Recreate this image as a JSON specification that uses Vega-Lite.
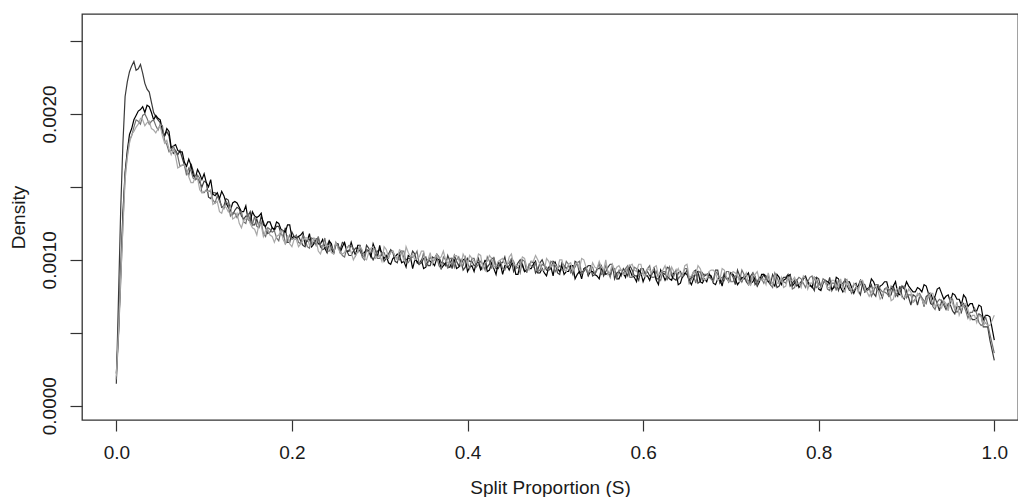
{
"$schema": "https://vega.github.io/schema/vega-lite/v6.json",
"width": 936, "height": 406,
"autosize": "none",
"padding": {"left": 82, "top": 14, "right": 0, "bottom": 77},
"background": "white",
"config": {"view": {"stroke": "#333333", "strokeWidth": 1.3}, "font": "Liberation Sans"},
"data": {"values": [
{"x":0,"a":0.00015,"b":0.00022,"c":0.00018,"d":0.00020},
{"x":0.005,"a":0.00135,"b":0.00092,"c":0.00085,"d":0.00088},
{"x":0.01,"a":0.00212,"b":0.00160,"c":0.00158,"d":0.00155},
{"x":0.015,"a":0.00229,"b":0.00186,"c":0.00182,"d":0.00180},
{"x":0.02,"a":0.00236,"b":0.00196,"c":0.00191,"d":0.00188},
{"x":0.025,"a":0.00231,"b":0.00202,"c":0.00195,"d":0.00193},
{"x":0.03,"a":0.00228,"b":0.00205,"c":0.00199,"d":0.00196},
{"x":0.035,"a":0.00217,"b":0.00206,"c":0.00197,"d":0.00194},
{"x":0.04,"a":0.00208,"b":0.00201,"c":0.00195,"d":0.00190},
{"x":0.045,"a":0.00198,"b":0.00199,"c":0.00192,"d":0.00187},
{"x":0.05,"a":0.00194,"b":0.00196,"c":0.00193,"d":0.00192},
{"x":0.055,"a":0.00185,"b":0.00185,"c":0.00182,"d":0.00180},
{"x":0.06,"a":0.00185,"b":0.00188,"c":0.00174,"d":0.00176},
{"x":0.065,"a":0.00173,"b":0.00178,"c":0.00178,"d":0.00176},
{"x":0.07,"a":0.00172,"b":0.00175,"c":0.00171,"d":0.00163},
{"x":0.075,"a":0.00170,"b":0.00174,"c":0.00165,"d":0.00165},
{"x":0.08,"a":0.00161,"b":0.00164,"c":0.00158,"d":0.00162},
{"x":0.085,"a":0.00166,"b":0.00165,"c":0.00161,"d":0.00153},
{"x":0.09,"a":0.00155,"b":0.00156,"c":0.00155,"d":0.00157},
{"x":0.095,"a":0.00153,"b":0.00159,"c":0.00156,"d":0.00148},
{"x":0.1,"a":0.00154,"b":0.00159,"c":0.00146,"d":0.00147},
{"x":0.105,"a":0.00143,"b":0.00150,"c":0.00147,"d":0.00147},
{"x":0.11,"a":0.00146,"b":0.00145,"c":0.00141,"d":0.00138},
{"x":0.115,"a":0.00145,"b":0.00146,"c":0.00144,"d":0.00140},
{"x":0.12,"a":0.00136,"b":0.00147,"c":0.00137,"d":0.00132},
{"x":0.125,"a":0.00142,"b":0.00139,"c":0.00140,"d":0.00136},
{"x":0.13,"a":0.00134,"b":0.00134,"c":0.00130,"d":0.00137},
{"x":0.135,"a":0.00134,"b":0.00140,"c":0.00132,"d":0.00129},
{"x":0.14,"a":0.00135,"b":0.00136,"c":0.00132,"d":0.00125},
{"x":0.145,"a":0.00128,"b":0.00133,"c":0.00126,"d":0.00127},
{"x":0.15,"a":0.00130,"b":0.00128,"c":0.00132,"d":0.00129},
{"x":0.155,"a":0.00124,"b":0.00133,"c":0.00124,"d":0.00122},
{"x":0.16,"a":0.00128,"b":0.00129,"c":0.00123,"d":0.00117},
{"x":0.165,"a":0.00130,"b":0.00132,"c":0.00126,"d":0.00124},
{"x":0.17,"a":0.00122,"b":0.00123,"c":0.00116,"d":0.00120},
{"x":0.175,"a":0.00119,"b":0.00126,"c":0.00121,"d":0.00117},
{"x":0.18,"a":0.00120,"b":0.00121,"c":0.00120,"d":0.00112},
{"x":0.185,"a":0.00123,"b":0.00125,"c":0.00113,"d":0.00117},
{"x":0.19,"a":0.00116,"b":0.00120,"c":0.00120,"d":0.00114},
{"x":0.195,"a":0.00112,"b":0.00124,"c":0.00113,"d":0.00117},
{"x":0.2,"a":0.00119,"b":0.00115,"c":0.00114,"d":0.00109},
{"x":0.205,"a":0.00115,"b":0.00115,"c":0.00117,"d":0.00114},
{"x":0.21,"a":0.00113,"b":0.00117,"c":0.00111,"d":0.00111},
{"x":0.215,"a":0.00109,"b":0.00111,"c":0.00114,"d":0.00115},
{"x":0.22,"a":0.00114,"b":0.00118,"c":0.00108,"d":0.00110},
{"x":0.225,"a":0.00112,"b":0.00111,"c":0.00114,"d":0.00115},
{"x":0.23,"a":0.00115,"b":0.00111,"c":0.00116,"d":0.00106},
{"x":0.235,"a":0.00107,"b":0.00114,"c":0.00109,"d":0.00109},
{"x":0.24,"a":0.00110,"b":0.00105,"c":0.00106,"d":0.00110},
{"x":0.245,"a":0.00107,"b":0.00111,"c":0.00109,"d":0.00105},
{"x":0.25,"a":0.00111,"b":0.00111,"c":0.00112,"d":0.00112},
{"x":0.255,"a":0.00107,"b":0.00105,"c":0.00106,"d":0.00105},
{"x":0.26,"a":0.00111,"b":0.00112,"c":0.00102,"d":0.00105},
{"x":0.265,"a":0.00103,"b":0.00106,"c":0.00110,"d":0.00109},
{"x":0.27,"a":0.00106,"b":0.00107,"c":0.00107,"d":0.00100},
{"x":0.275,"a":0.00108,"b":0.00110,"c":0.00105,"d":0.00106},
{"x":0.28,"a":0.00103,"b":0.00104,"c":0.00102,"d":0.00107},
{"x":0.285,"a":0.00110,"b":0.00107,"c":0.00107,"d":0.00100},
{"x":0.29,"a":0.00103,"b":0.00102,"c":0.00105,"d":0.00108},
{"x":0.295,"a":0.00103,"b":0.00107,"c":0.00108,"d":0.00101},
{"x":0.3,"a":0.00107,"b":0.00110,"c":0.00101,"d":0.00103},
{"x":0.305,"a":0.00099,"b":0.00101,"c":0.00105,"d":0.00109},
{"x":0.31,"a":0.00104,"b":0.00098,"c":0.00101,"d":0.00102},
{"x":0.315,"a":0.00105,"b":0.00101,"c":0.00106,"d":0.00106},
{"x":0.32,"a":0.00098,"b":0.00104,"c":0.00101,"d":0.00100},
{"x":0.325,"a":0.00106,"b":0.00098,"c":0.00106,"d":0.00106},
{"x":0.33,"a":0.00100,"b":0.00095,"c":0.00098,"d":0.00109},
{"x":0.335,"a":0.00101,"b":0.00102,"c":0.00101,"d":0.00102},
{"x":0.34,"a":0.00104,"b":0.00100,"c":0.00103,"d":0.00100},
{"x":0.345,"a":0.00097,"b":0.00097,"c":0.00097,"d":0.00102},
{"x":0.35,"a":0.00101,"b":0.00094,"c":0.00105,"d":0.00106},
{"x":0.355,"a":0.00096,"b":0.00100,"c":0.00098,"d":0.00100},
{"x":0.36,"a":0.00102,"b":0.00098,"c":0.00099,"d":0.00097},
{"x":0.365,"a":0.00104,"b":0.00101,"c":0.00102,"d":0.00104},
{"x":0.37,"a":0.00098,"b":0.00094,"c":0.00094,"d":0.00102},
{"x":0.375,"a":0.00096,"b":0.00098,"c":0.00100,"d":0.00100},
{"x":0.38,"a":0.00099,"b":0.00095,"c":0.00101,"d":0.00097},
{"x":0.385,"a":0.00103,"b":0.00100,"c":0.00095,"d":0.00103},
{"x":0.39,"a":0.00096,"b":0.00095,"c":0.00102,"d":0.00100},
{"x":0.395,"a":0.00093,"b":0.00100,"c":0.00096,"d":0.00104},
{"x":0.4,"a":0.00101,"b":0.00092,"c":0.00098,"d":0.00097},
{"x":0.405,"a":0.00099,"b":0.00096,"c":0.00101,"d":0.00101},
{"x":0.41,"a":0.00097,"b":0.00098,"c":0.00095,"d":0.00098},
{"x":0.415,"a":0.00094,"b":0.00093,"c":0.00099,"d":0.00103},
{"x":0.42,"a":0.00099,"b":0.00100,"c":0.00093,"d":0.00098},
{"x":0.425,"a":0.00097,"b":0.00093,"c":0.00099,"d":0.00103},
{"x":0.43,"a":0.00101,"b":0.00094,"c":0.00102,"d":0.00095},
{"x":0.435,"a":0.00094,"b":0.00098,"c":0.00096,"d":0.00099},
{"x":0.44,"a":0.00098,"b":0.00090,"c":0.00094,"d":0.00101},
{"x":0.445,"a":0.00095,"b":0.00096,"c":0.00097,"d":0.00096},
{"x":0.45,"a":0.00100,"b":0.00097,"c":0.00101,"d":0.00104},
{"x":0.455,"a":0.00095,"b":0.00090,"c":0.00094,"d":0.00096},
{"x":0.46,"a":0.00100,"b":0.00098,"c":0.00091,"d":0.00097},
{"x":0.465,"a":0.00092,"b":0.00092,"c":0.00099,"d":0.00101},
{"x":0.47,"a":0.00096,"b":0.00094,"c":0.00097,"d":0.00093},
{"x":0.475,"a":0.00098,"b":0.00097,"c":0.00095,"d":0.00099},
{"x":0.48,"a":0.00093,"b":0.00091,"c":0.00092,"d":0.00100},
{"x":0.485,"a":0.00100,"b":0.00094,"c":0.00097,"d":0.00093},
{"x":0.49,"a":0.00093,"b":0.00089,"c":0.00095,"d":0.00101},
{"x":0.495,"a":0.00094,"b":0.00095,"c":0.00099,"d":0.00095},
{"x":0.5,"a":0.00098,"b":0.00098,"c":0.00092,"d":0.00097},
{"x":0.505,"a":0.00090,"b":0.00092,"c":0.00096,"d":0.00100},
{"x":0.51,"a":0.00096,"b":0.00090,"c":0.00093,"d":0.00094},
{"x":0.515,"a":0.00096,"b":0.00092,"c":0.00097,"d":0.00097},
{"x":0.52,"a":0.00090,"b":0.00096,"c":0.00093,"d":0.00092},
{"x":0.525,"a":0.00098,"b":0.00090,"c":0.00098,"d":0.00098},
{"x":0.53,"a":0.00092,"b":0.00087,"c":0.00090,"d":0.00101},
{"x":0.535,"a":0.00094,"b":0.00095,"c":0.00094,"d":0.00095},
{"x":0.54,"a":0.00096,"b":0.00092,"c":0.00095,"d":0.00092},
{"x":0.545,"a":0.00090,"b":0.00090,"c":0.00090,"d":0.00095},
{"x":0.55,"a":0.00094,"b":0.00087,"c":0.00098,"d":0.00099},
{"x":0.555,"a":0.00089,"b":0.00093,"c":0.00091,"d":0.00093},
{"x":0.56,"a":0.00095,"b":0.00091,"c":0.00092,"d":0.00090},
{"x":0.565,"a":0.00097,"b":0.00094,"c":0.00095,"d":0.00097},
{"x":0.57,"a":0.00091,"b":0.00087,"c":0.00087,"d":0.00095},
{"x":0.575,"a":0.00089,"b":0.00091,"c":0.00093,"d":0.00093},
{"x":0.58,"a":0.00092,"b":0.00088,"c":0.00094,"d":0.00090},
{"x":0.585,"a":0.00096,"b":0.00093,"c":0.00088,"d":0.00096},
{"x":0.59,"a":0.00089,"b":0.00088,"c":0.00095,"d":0.00093},
{"x":0.595,"a":0.00086,"b":0.00093,"c":0.00089,"d":0.00097},
{"x":0.6,"a":0.00094,"b":0.00085,"c":0.00091,"d":0.00090},
{"x":0.605,"a":0.00092,"b":0.00089,"c":0.00094,"d":0.00094},
{"x":0.61,"a":0.00090,"b":0.00091,"c":0.00088,"d":0.00091},
{"x":0.615,"a":0.00087,"b":0.00086,"c":0.00092,"d":0.00096},
{"x":0.62,"a":0.00092,"b":0.00093,"c":0.00086,"d":0.00091},
{"x":0.625,"a":0.00090,"b":0.00086,"c":0.00092,"d":0.00096},
{"x":0.63,"a":0.00094,"b":0.00087,"c":0.00095,"d":0.00088},
{"x":0.635,"a":0.00087,"b":0.00091,"c":0.00089,"d":0.00092},
{"x":0.64,"a":0.00091,"b":0.00083,"c":0.00087,"d":0.00094},
{"x":0.645,"a":0.00088,"b":0.00089,"c":0.00090,"d":0.00089},
{"x":0.65,"a":0.00093,"b":0.00090,"c":0.00094,"d":0.00097},
{"x":0.655,"a":0.00088,"b":0.00083,"c":0.00087,"d":0.00089},
{"x":0.66,"a":0.00093,"b":0.00091,"c":0.00084,"d":0.00090},
{"x":0.665,"a":0.00085,"b":0.00085,"c":0.00092,"d":0.00094},
{"x":0.67,"a":0.00089,"b":0.00087,"c":0.00090,"d":0.00086},
{"x":0.675,"a":0.00091,"b":0.00090,"c":0.00088,"d":0.00092},
{"x":0.68,"a":0.00086,"b":0.00084,"c":0.00085,"d":0.00093},
{"x":0.685,"a":0.00093,"b":0.00087,"c":0.00090,"d":0.00086},
{"x":0.69,"a":0.00086,"b":0.00082,"c":0.00088,"d":0.00094},
{"x":0.695,"a":0.00087,"b":0.00088,"c":0.00092,"d":0.00088},
{"x":0.7,"a":0.00091,"b":0.00091,"c":0.00085,"d":0.00090},
{"x":0.705,"a":0.00083,"b":0.00087,"c":0.00089,"d":0.00091},
{"x":0.71,"a":0.00089,"b":0.00085,"c":0.00086,"d":0.00085},
{"x":0.715,"a":0.00089,"b":0.00087,"c":0.00090,"d":0.00088},
{"x":0.72,"a":0.00083,"b":0.00091,"c":0.00086,"d":0.00083},
{"x":0.725,"a":0.00091,"b":0.00085,"c":0.00091,"d":0.00089},
{"x":0.73,"a":0.00085,"b":0.00082,"c":0.00083,"d":0.00092},
{"x":0.735,"a":0.00087,"b":0.00090,"c":0.00087,"d":0.00086},
{"x":0.74,"a":0.00089,"b":0.00087,"c":0.00088,"d":0.00083},
{"x":0.745,"a":0.00083,"b":0.00085,"c":0.00083,"d":0.00086},
{"x":0.75,"a":0.00087,"b":0.00082,"c":0.00091,"d":0.00090},
{"x":0.755,"a":0.00082,"b":0.00088,"c":0.00084,"d":0.00084},
{"x":0.76,"a":0.00088,"b":0.00086,"c":0.00085,"d":0.00081},
{"x":0.765,"a":0.00090,"b":0.00089,"c":0.00088,"d":0.00088},
{"x":0.77,"a":0.00084,"b":0.00082,"c":0.00080,"d":0.00086},
{"x":0.775,"a":0.00082,"b":0.00086,"c":0.00086,"d":0.00084},
{"x":0.78,"a":0.00085,"b":0.00083,"c":0.00087,"d":0.00081},
{"x":0.785,"a":0.00089,"b":0.00088,"c":0.00081,"d":0.00087},
{"x":0.79,"a":0.00082,"b":0.00083,"c":0.00088,"d":0.00084},
{"x":0.795,"a":0.00079,"b":0.00088,"c":0.00082,"d":0.00088},
{"x":0.8,"a":0.00087,"b":0.00080,"c":0.00084,"d":0.00081},
{"x":0.805,"a":0.00085,"b":0.00084,"c":0.00087,"d":0.00085},
{"x":0.81,"a":0.00082,"b":0.00085,"c":0.00080,"d":0.00081},
{"x":0.815,"a":0.00079,"b":0.00080,"c":0.00084,"d":0.00086},
{"x":0.82,"a":0.00085,"b":0.00088,"c":0.00079,"d":0.00082},
{"x":0.825,"a":0.00083,"b":0.00081,"c":0.00085,"d":0.00087},
{"x":0.83,"a":0.00086,"b":0.00081,"c":0.00087,"d":0.00078},
{"x":0.835,"a":0.00079,"b":0.00085,"c":0.00081,"d":0.00082},
{"x":0.84,"a":0.00083,"b":0.00077,"c":0.00079,"d":0.00084},
{"x":0.845,"a":0.00079,"b":0.00082,"c":0.00081,"d":0.00078},
{"x":0.85,"a":0.00084,"b":0.00083,"c":0.00085,"d":0.00086},
{"x":0.855,"a":0.00079,"b":0.00080,"c":0.00079,"d":0.00078},
{"x":0.86,"a":0.00083,"b":0.00087,"c":0.00075,"d":0.00078},
{"x":0.865,"a":0.00075,"b":0.00081,"c":0.00083,"d":0.00082},
{"x":0.87,"a":0.00078,"b":0.00082,"c":0.00080,"d":0.00073},
{"x":0.875,"a":0.00080,"b":0.00085,"c":0.00078,"d":0.00079},
{"x":0.88,"a":0.00075,"b":0.00079,"c":0.00075,"d":0.00080},
{"x":0.885,"a":0.00082,"b":0.00082,"c":0.00080,"d":0.00073},
{"x":0.89,"a":0.00075,"b":0.00077,"c":0.00078,"d":0.00081},
{"x":0.895,"a":0.00075,"b":0.00082,"c":0.00081,"d":0.00074},
{"x":0.9,"a":0.00079,"b":0.00085,"c":0.00074,"d":0.00076},
{"x":0.905,"a":0.00069,"b":0.00080,"c":0.00076,"d":0.00078},
{"x":0.91,"a":0.00075,"b":0.00078,"c":0.00073,"d":0.00072},
{"x":0.915,"a":0.00075,"b":0.00080,"c":0.00077,"d":0.00075},
{"x":0.92,"a":0.00068,"b":0.00083,"c":0.00072,"d":0.00069},
{"x":0.925,"a":0.00076,"b":0.00077,"c":0.00077,"d":0.00075},
{"x":0.93,"a":0.00069,"b":0.00073,"c":0.00068,"d":0.00077},
{"x":0.935,"a":0.00070,"b":0.00080,"c":0.00071,"d":0.00070},
{"x":0.94,"a":0.00072,"b":0.00077,"c":0.00072,"d":0.00067},
{"x":0.945,"a":0.00066,"b":0.00075,"c":0.00067,"d":0.00070},
{"x":0.95,"a":0.00069,"b":0.00071,"c":0.00074,"d":0.00073},
{"x":0.955,"a":0.00063,"b":0.00076,"c":0.00066,"d":0.00066},
{"x":0.96,"a":0.00068,"b":0.00073,"c":0.00066,"d":0.00062},
{"x":0.965,"a":0.00070,"b":0.00076,"c":0.00069,"d":0.00069},
{"x":0.97,"a":0.00063,"b":0.00068,"c":0.00060,"d":0.00066},
{"x":0.975,"a":0.00059,"b":0.00070,"c":0.00064,"d":0.00062},
{"x":0.98,"a":0.00060,"b":0.00065,"c":0.00063,"d":0.00057},
{"x":0.985,"a":0.00062,"b":0.00068,"c":0.00055,"d":0.00061},
{"x":0.99,"a":0.00054,"b":0.00062,"c":0.00061,"d":0.00057},
{"x":0.995,"a":0.00045,"b":0.00061,"c":0.00049,"d":0.00055},
{"x":1.0,"a":0.00031,"b":0.00045,"c":0.00036,"d":0.00062},
{"x":0.0025,"a":0.00075,"b":0.00050,"c":0.00048,"d":0.00052},
{"x":0.0075,"a":0.00180,"b":0.00132,"c":0.00125,"d":0.00122},
{"x":0.0125,"a":0.00222,"b":0.00175,"c":0.00172,"d":0.00170},
{"x":0.0175,"a":0.00233,"b":0.00190,"c":0.00185,"d":0.00186},
{"x":0.0225,"a":0.00230,"b":0.00199,"c":0.00196,"d":0.00191},
{"x":0.0275,"a":0.00234,"b":0.00203,"c":0.00193,"d":0.00197},
{"x":0.0325,"a":0.00221,"b":0.00201,"c":0.00200,"d":0.00192},
{"x":0.0375,"a":0.00215,"b":0.00205,"c":0.00193,"d":0.00195},
{"x":0.0425,"a":0.00201,"b":0.00196,"c":0.00196,"d":0.00189},
{"x":0.0475,"a":0.00196,"b":0.00197,"c":0.00189,"d":0.00190},
{"x":0.0525,"a":0.00187,"b":0.00189,"c":0.00192,"d":0.00185},
{"x":0.0575,"a":0.00188,"b":0.00190,"c":0.00179,"d":0.00182},
{"x":0.0625,"a":0.00176,"b":0.00177,"c":0.00175,"d":0.00172},
{"x":0.0675,"a":0.00175,"b":0.00179,"c":0.00174,"d":0.00171},
{"x":0.0725,"a":0.00175,"b":0.00174,"c":0.00164,"d":0.00164},
{"x":0.0775,"a":0.00165,"b":0.00167,"c":0.00165,"d":0.00165},
{"x":0.0825,"a":0.00158,"b":0.00169,"c":0.00163,"d":0.00157},
{"x":0.0875,"a":0.00161,"b":0.00158,"c":0.00156,"d":0.00153},
{"x":0.0925,"a":0.00156,"b":0.00162,"c":0.00158,"d":0.00156},
{"x":0.0975,"a":0.00150,"b":0.00155,"c":0.00146,"d":0.00146},
{"x":0.1025,"a":0.00153,"b":0.00153,"c":0.00148,"d":0.00147},
{"x":0.1075,"a":0.00142,"b":0.00155,"c":0.00147,"d":0.00148},
{"x":0.1125,"a":0.00146,"b":0.00144,"c":0.00139,"d":0.00139},
{"x":0.1175,"a":0.00142,"b":0.00142,"c":0.00140,"d":0.00133},
{"x":0.1225,"a":0.00137,"b":0.00144,"c":0.00135,"d":0.00137},
{"x":0.1275,"a":0.00141,"b":0.00136,"c":0.00138,"d":0.00133},
{"x":0.1325,"a":0.00131,"b":0.00139,"c":0.00132,"d":0.00128},
{"x":0.1375,"a":0.00136,"b":0.00139,"c":0.00129,"d":0.00132},
{"x":0.1425,"a":0.00130,"b":0.00133,"c":0.00133,"d":0.00122},
{"x":0.1475,"a":0.00130,"b":0.00137,"c":0.00125,"d":0.00128},
{"x":0.1525,"a":0.00133,"b":0.00126,"c":0.00127,"d":0.00125},
{"x":0.1575,"a":0.00124,"b":0.00130,"c":0.00130,"d":0.00121},
{"x":0.1625,"a":0.00123,"b":0.00130,"c":0.00122,"d":0.00125},
{"x":0.1675,"a":0.00126,"b":0.00124,"c":0.00118,"d":0.00116},
{"x":0.1725,"a":0.00118,"b":0.00126,"c":0.00122,"d":0.00121},
{"x":0.1775,"a":0.00122,"b":0.00122,"c":0.00119,"d":0.00116},
{"x":0.1825,"a":0.00123,"b":0.00126,"c":0.00115,"d":0.00116},
{"x":0.1875,"a":0.00118,"b":0.00121,"c":0.00120,"d":0.00120},
{"x":0.1925,"a":0.00122,"b":0.00119,"c":0.00111,"d":0.00111},
{"x":0.1975,"a":0.00112,"b":0.00124,"c":0.00117,"d":0.00111},
{"x":0.2025,"a":0.00116,"b":0.00116,"c":0.00115,"d":0.00114},
{"x":0.2075,"a":0.00116,"b":0.00116,"c":0.00112,"d":0.00109},
{"x":0.2125,"a":0.00110,"b":0.00119,"c":0.00117,"d":0.00113},
{"x":0.2175,"a":0.00114,"b":0.00113,"c":0.00109,"d":0.00115},
{"x":0.2225,"a":0.00110,"b":0.00109,"c":0.00115,"d":0.00110},
{"x":0.2275,"a":0.00114,"b":0.00114,"c":0.00110,"d":0.00114},
{"x":0.2325,"a":0.00109,"b":0.00111,"c":0.00110,"d":0.00104},
{"x":0.2375,"a":0.00108,"b":0.00108,"c":0.00115,"d":0.00109},
{"x":0.2425,"a":0.00113,"b":0.00113,"c":0.00106,"d":0.00110},
{"x":0.2475,"a":0.00105,"b":0.00104,"c":0.00106,"d":0.00104},
{"x":0.2525,"a":0.00109,"b":0.00111,"c":0.00110,"d":0.00108},
{"x":0.2575,"a":0.00112,"b":0.00109,"c":0.00103,"d":0.00104},
{"x":0.2625,"a":0.00106,"b":0.00106,"c":0.00108,"d":0.00109},
{"x":0.2675,"a":0.00103,"b":0.00112,"c":0.00110,"d":0.00105},
{"x":0.2725,"a":0.00108,"b":0.00103,"c":0.00105,"d":0.00103},
{"x":0.2775,"a":0.00106,"b":0.00110,"c":0.00110,"d":0.00109},
{"x":0.2825,"a":0.00102,"b":0.00105,"c":0.00100,"d":0.00101},
{"x":0.2875,"a":0.00108,"b":0.00106,"c":0.00105,"d":0.00105},
{"x":0.2925,"a":0.00100,"b":0.00111,"c":0.00107,"d":0.00109},
{"x":0.2975,"a":0.00106,"b":0.00102,"c":0.00101,"d":0.00102},
{"x":0.3025,"a":0.00105,"b":0.00103,"c":0.00105,"d":0.00099},
{"x":0.3075,"a":0.00101,"b":0.00103,"c":0.00101,"d":0.00107},
{"x":0.3125,"a":0.00107,"b":0.00097,"c":0.00106,"d":0.00105},
{"x":0.3175,"a":0.00099,"b":0.00102,"c":0.00102,"d":0.00102},
{"x":0.3225,"a":0.00105,"b":0.00103,"c":0.00100,"d":0.00107},
{"x":0.3275,"a":0.00101,"b":0.00099,"c":0.00106,"d":0.00099},
{"x":0.3325,"a":0.00101,"b":0.00103,"c":0.00098,"d":0.00105},
{"x":0.3375,"a":0.00106,"b":0.00094,"c":0.00102,"d":0.00104},
{"x":0.3425,"a":0.00098,"b":0.00099,"c":0.00106,"d":0.00101},
{"x":0.3475,"a":0.00098,"b":0.00100,"c":0.00099,"d":0.00106},
{"x":0.3525,"a":0.00102,"b":0.00095,"c":0.00096,"d":0.00098},
{"x":0.3575,"a":0.00096,"b":0.00099,"c":0.00102,"d":0.00105},
{"x":0.3625,"a":0.00101,"b":0.00096,"c":0.00100,"d":0.00101},
{"x":0.3675,"a":0.00102,"b":0.00100,"c":0.00096,"d":0.00101},
{"x":0.3725,"a":0.00098,"b":0.00096,"c":0.00102,"d":0.00106},
{"x":0.3775,"a":0.00103,"b":0.00095,"c":0.00094,"d":0.00098},
{"x":0.3825,"a":0.00094,"b":0.00101,"c":0.00101,"d":0.00099},
{"x":0.3875,"a":0.00099,"b":0.00094,"c":0.00100,"d":0.00103},
{"x":0.3925,"a":0.00100,"b":0.00097,"c":0.00096,"d":0.00096},
{"x":0.3975,"a":0.00095,"b":0.00101,"c":0.00102,"d":0.00101},
{"x":0.4025,"a":0.00099,"b":0.00095,"c":0.00094,"d":0.00103},
{"x":0.4075,"a":0.00096,"b":0.00092,"c":0.00101,"d":0.00099},
{"x":0.4125,"a":0.00101,"b":0.00098,"c":0.00097,"d":0.00104},
{"x":0.4175,"a":0.00096,"b":0.00095,"c":0.00097,"d":0.00094},
{"x":0.4225,"a":0.00095,"b":0.00092,"c":0.00102,"d":0.00099},
{"x":0.4275,"a":0.00101,"b":0.00098,"c":0.00094,"d":0.00101},
{"x":0.4325,"a":0.00094,"b":0.00090,"c":0.00095,"d":0.00096},
{"x":0.4375,"a":0.00098,"b":0.00097,"c":0.00099,"d":0.00100},
{"x":0.4425,"a":0.00102,"b":0.00096,"c":0.00093,"d":0.00097},
{"x":0.4475,"a":0.00096,"b":0.00093,"c":0.00098,"d":0.00102},
{"x":0.4525,"a":0.00092,"b":0.00098,"c":0.00099,"d":0.00097},
{"x":0.4575,"a":0.00098,"b":0.00090,"c":0.00095,"d":0.00096},
{"x":0.4625,"a":0.00096,"b":0.00097,"c":0.00100,"d":0.00102},
{"x":0.4675,"a":0.00093,"b":0.00093,"c":0.00091,"d":0.00095},
{"x":0.4725,"a":0.00099,"b":0.00094,"c":0.00096,"d":0.00099},
{"x":0.4775,"a":0.00091,"b":0.00099,"c":0.00098,"d":0.00103},
{"x":0.4825,"a":0.00098,"b":0.00091,"c":0.00093,"d":0.00097},
{"x":0.4875,"a":0.00096,"b":0.00091,"c":0.00096,"d":0.00093},
{"x":0.4925,"a":0.00093,"b":0.00095,"c":0.00093,"d":0.00099},
{"x":0.4975,"a":0.00099,"b":0.00089,"c":0.00098,"d":0.00097},
{"x":0.5025,"a":0.00091,"b":0.00094,"c":0.00094,"d":0.00094},
{"x":0.5075,"a":0.00098,"b":0.00096,"c":0.00093,"d":0.00100},
{"x":0.5125,"a":0.00094,"b":0.00092,"c":0.00099,"d":0.00092},
{"x":0.5175,"a":0.00094,"b":0.00096,"c":0.00091,"d":0.00098},
{"x":0.5225,"a":0.00099,"b":0.00087,"c":0.00095,"d":0.00097},
{"x":0.5275,"a":0.00091,"b":0.00092,"c":0.00099,"d":0.00094},
{"x":0.5325,"a":0.00092,"b":0.00094,"c":0.00093,"d":0.00100},
{"x":0.5375,"a":0.00096,"b":0.00089,"c":0.00090,"d":0.00092},
{"x":0.5425,"a":0.00089,"b":0.00092,"c":0.00095,"d":0.00098},
{"x":0.5475,"a":0.00094,"b":0.00089,"c":0.00093,"d":0.00094},
{"x":0.5525,"a":0.00096,"b":0.00094,"c":0.00090,"d":0.00095},
{"x":0.5575,"a":0.00092,"b":0.00090,"c":0.00096,"d":0.00100},
{"x":0.5625,"a":0.00097,"b":0.00089,"c":0.00088,"d":0.00092},
{"x":0.5675,"a":0.00087,"b":0.00094,"c":0.00094,"d":0.00092},
{"x":0.5725,"a":0.00092,"b":0.00087,"c":0.00093,"d":0.00096},
{"x":0.5775,"a":0.00094,"b":0.00091,"c":0.00090,"d":0.00090},
{"x":0.5825,"a":0.00089,"b":0.00095,"c":0.00096,"d":0.00095},
{"x":0.5875,"a":0.00093,"b":0.00089,"c":0.00088,"d":0.00097},
{"x":0.5925,"a":0.00089,"b":0.00085,"c":0.00094,"d":0.00092},
{"x":0.5975,"a":0.00094,"b":0.00091,"c":0.00090,"d":0.00097},
{"x":0.6025,"a":0.00090,"b":0.00089,"c":0.00091,"d":0.00088},
{"x":0.6075,"a":0.00089,"b":0.00086,"c":0.00096,"d":0.00093},
{"x":0.6125,"a":0.00095,"b":0.00092,"c":0.00088,"d":0.00095},
{"x":0.6175,"a":0.00087,"b":0.00083,"c":0.00088,"d":0.00089},
{"x":0.6225,"a":0.00091,"b":0.00090,"c":0.00092,"d":0.00093},
{"x":0.6275,"a":0.00095,"b":0.00089,"c":0.00086,"d":0.00090},
{"x":0.6325,"a":0.00089,"b":0.00086,"c":0.00091,"d":0.00095},
{"x":0.6375,"a":0.00086,"b":0.00092,"c":0.00093,"d":0.00091},
{"x":0.6425,"a":0.00092,"b":0.00084,"c":0.00089,"d":0.00090},
{"x":0.6475,"a":0.00090,"b":0.00091,"c":0.00094,"d":0.00096},
{"x":0.6525,"a":0.00086,"b":0.00086,"c":0.00084,"d":0.00088},
{"x":0.6575,"a":0.00092,"b":0.00087,"c":0.00089,"d":0.00092},
{"x":0.6625,"a":0.00084,"b":0.00092,"c":0.00091,"d":0.00096},
{"x":0.6675,"a":0.00091,"b":0.00084,"c":0.00086,"d":0.00090},
{"x":0.6725,"a":0.00090,"b":0.00085,"c":0.00090,"d":0.00087},
{"x":0.6775,"a":0.00087,"b":0.00089,"c":0.00087,"d":0.00093},
{"x":0.6825,"a":0.00093,"b":0.00083,"c":0.00092,"d":0.00091},
{"x":0.6875,"a":0.00084,"b":0.00087,"c":0.00087,"d":0.00087},
{"x":0.6925,"a":0.00091,"b":0.00089,"c":0.00086,"d":0.00093},
{"x":0.6975,"a":0.00087,"b":0.00085,"c":0.00092,"d":0.00085},
{"x":0.7025,"a":0.00088,"b":0.00090,"c":0.00085,"d":0.00092},
{"x":0.7075,"a":0.00093,"b":0.00083,"c":0.00089,"d":0.00089},
{"x":0.7125,"a":0.00085,"b":0.00088,"c":0.00093,"d":0.00086},
{"x":0.7175,"a":0.00085,"b":0.00089,"c":0.00086,"d":0.00091},
{"x":0.7225,"a":0.00089,"b":0.00084,"c":0.00083,"d":0.00083},
{"x":0.7275,"a":0.00083,"b":0.00088,"c":0.00089,"d":0.00090},
{"x":0.7325,"a":0.00088,"b":0.00085,"c":0.00087,"d":0.00086},
{"x":0.7375,"a":0.00090,"b":0.00090,"c":0.00084,"d":0.00087},
{"x":0.7425,"a":0.00085,"b":0.00085,"c":0.00089,"d":0.00091},
{"x":0.7475,"a":0.00090,"b":0.00084,"c":0.00081,"d":0.00083},
{"x":0.7525,"a":0.00081,"b":0.00090,"c":0.00088,"d":0.00084},
{"x":0.7575,"a":0.00086,"b":0.00083,"c":0.00087,"d":0.00088},
{"x":0.7625,"a":0.00088,"b":0.00087,"c":0.00084,"d":0.00082},
{"x":0.7675,"a":0.00082,"b":0.00090,"c":0.00089,"d":0.00086},
{"x":0.7725,"a":0.00086,"b":0.00084,"c":0.00081,"d":0.00088},
{"x":0.7775,"a":0.00083,"b":0.00081,"c":0.00088,"d":0.00084},
{"x":0.7825,"a":0.00088,"b":0.00087,"c":0.00084,"d":0.00089},
{"x":0.7875,"a":0.00084,"b":0.00085,"c":0.00085,"d":0.00080},
{"x":0.7925,"a":0.00082,"b":0.00081,"c":0.00089,"d":0.00084},
{"x":0.7975,"a":0.00088,"b":0.00087,"c":0.00081,"d":0.00086},
{"x":0.8025,"a":0.00081,"b":0.00079,"c":0.00082,"d":0.00081},
{"x":0.8075,"a":0.00085,"b":0.00086,"c":0.00086,"d":0.00085},
{"x":0.8125,"a":0.00088,"b":0.00084,"c":0.00079,"d":0.00081},
{"x":0.8175,"a":0.00082,"b":0.00081,"c":0.00084,"d":0.00086},
{"x":0.8225,"a":0.00079,"b":0.00087,"c":0.00086,"d":0.00082},
{"x":0.8275,"a":0.00084,"b":0.00078,"c":0.00081,"d":0.00080},
{"x":0.8325,"a":0.00082,"b":0.00085,"c":0.00086,"d":0.00086},
{"x":0.8375,"a":0.00079,"b":0.00081,"c":0.00077,"d":0.00079},
{"x":0.8425,"a":0.00084,"b":0.00081,"c":0.00081,"d":0.00082},
{"x":0.8475,"a":0.00076,"b":0.00086,"c":0.00083,"d":0.00086},
{"x":0.8525,"a":0.00083,"b":0.00078,"c":0.00078,"d":0.00080},
{"x":0.8575,"a":0.00080,"b":0.00081,"c":0.00081,"d":0.00075},
{"x":0.8625,"a":0.00077,"b":0.00085,"c":0.00078,"d":0.00081},
{"x":0.8675,"a":0.00083,"b":0.00079,"c":0.00083,"d":0.00079},
{"x":0.8725,"a":0.00074,"b":0.00083,"c":0.00078,"d":0.00075},
{"x":0.8775,"a":0.00081,"b":0.00085,"c":0.00077,"d":0.00081},
{"x":0.8825,"a":0.00076,"b":0.00080,"c":0.00082,"d":0.00072},
{"x":0.8875,"a":0.00077,"b":0.00085,"c":0.00075,"d":0.00079},
{"x":0.8925,"a":0.00082,"b":0.00076,"c":0.00079,"d":0.00078},
{"x":0.8975,"a":0.00073,"b":0.00080,"c":0.00082,"d":0.00074},
{"x":0.9025,"a":0.00074,"b":0.00082,"c":0.00076,"d":0.00080},
{"x":0.9075,"a":0.00076,"b":0.00078,"c":0.00071,"d":0.00071},
{"x":0.9125,"a":0.00069,"b":0.00081,"c":0.00076,"d":0.00077},
{"x":0.9175,"a":0.00074,"b":0.00078,"c":0.00074,"d":0.00073},
{"x":0.9225,"a":0.00075,"b":0.00082,"c":0.00070,"d":0.00073},
{"x":0.9275,"a":0.00070,"b":0.00077,"c":0.00075,"d":0.00077},
{"x":0.9325,"a":0.00074,"b":0.00075,"c":0.00066,"d":0.00068},
{"x":0.9375,"a":0.00065,"b":0.00081,"c":0.00073,"d":0.00069},
{"x":0.9425,"a":0.00069,"b":0.00073,"c":0.00071,"d":0.00072},
{"x":0.9475,"a":0.00070,"b":0.00076,"c":0.00067,"d":0.00065},
{"x":0.9525,"a":0.00065,"b":0.00077,"c":0.00073,"d":0.00070},
{"x":0.9575,"a":0.00068,"b":0.00073,"c":0.00064,"d":0.00071},
{"x":0.9625,"a":0.00064,"b":0.00069,"c":0.00070,"d":0.00066},
{"x":0.9675,"a":0.00068,"b":0.00074,"c":0.00065,"d":0.00070},
{"x":0.9725,"a":0.00062,"b":0.00070,"c":0.00064,"d":0.00059},
{"x":0.9775,"a":0.00059,"b":0.00065,"c":0.00067,"d":0.00062},
{"x":0.9825,"a":0.00063,"b":0.00069,"c":0.00057,"d":0.00062},
{"x":0.9875,"a":0.00054,"b":0.00059,"c":0.00056,"d":0.00055},
{"x":0.9925,"a":0.00054,"b":0.00062,"c":0.00056,"d":0.00055}
]},
"transform": [{"fold": ["a", "b", "c", "d"], "as": ["series", "density"]}],
"mark": {"type": "line", "strokeWidth": 1.2, "clip": true},
"encoding": {
  "x": {"field": "x", "type": "quantitative",
    "scale": {"domain": [-0.0391, 1.027], "nice": false, "zero": false},
    "axis": {"values": [0, 0.2, 0.4, 0.6, 0.8, 1.0], "format": ".1f", "grid": false, "domain": false,
      "tickSize": 11, "tickColor": "#333333", "tickWidth": 1.2, "labelFlush": false,
      "labelFontSize": 19, "labelColor": "#1a1a1a", "labelPadding": 12, "labelFont": "Liberation Sans",
      "title": "Split Proportion (S)", "titleFontSize": 19, "titleFontWeight": "normal", "titleFont": "Liberation Sans",
      "titleColor": "#1a1a1a", "titleY": 67, "titleBaseline": "middle"}},
  "y": {"field": "density", "type": "quantitative",
    "scale": {"domain": [-0.000098, 0.0026856], "nice": false, "zero": false},
    "axis": {"values": [0, 0.0005, 0.001, 0.0015, 0.002, 0.0025], "grid": false, "domain": false,
      "labelExpr": "(round(datum.value*10000) % 10 == 0) ? format(datum.value, '.4f') : ''",
      "tickSize": 12, "tickColor": "#333333", "tickWidth": 1.2, "labelFlush": false,
      "labelAngle": -90, "labelAlign": "center", "labelBaseline": "bottom",
      "labelFontSize": 19, "labelColor": "#1a1a1a", "labelPadding": 11, "labelFont": "Liberation Sans",
      "title": "Density", "titleFontSize": 19, "titleFontWeight": "normal", "titleFont": "Liberation Sans",
      "titleColor": "#1a1a1a", "titleX": -64, "titleBaseline": "middle"}},
  "color": {"field": "series", "type": "nominal",
    "scale": {"domain": ["a", "b", "c", "d"], "range": ["#3a3a3a", "#000000", "#707070", "#a8a8a8"]},
    "legend": null}
}
}
